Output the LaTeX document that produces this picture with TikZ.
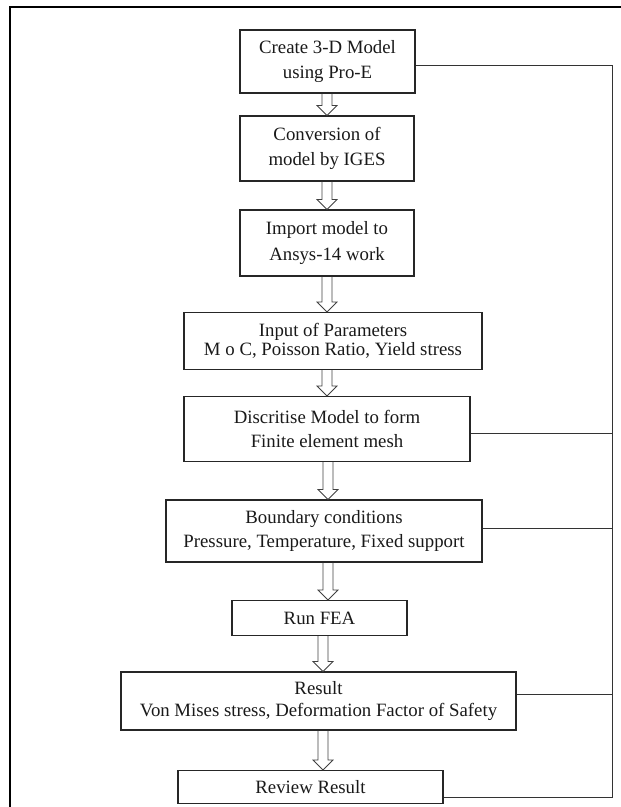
\documentclass[tikz,border=0pt]{standalone}
\usepackage{fontspec}
\setmainfont{Liberation Serif}
\usetikzlibrary{calc}
\begin{document}
\begin{tikzpicture}[x=1pt,y=-1pt,
  box/.style={draw=black!85, line width=1.1pt, align=center, inner sep=0pt,
    font=\fontsize{18.8}{25.5}\selectfont, text=black!90},
  fb/.style={draw=black!80, line width=1pt},
  hollow/.style={draw=black!75, line width=0.8pt,
    to path={let \p1=(\tikztostart), \p2=(\tikztotarget) in
      (\x1-5pt,\y1) -- (\x1-5pt,\y2+10pt) -- (\x1-10pt,\y2+10pt) -- (\x1,\y2)
      -- (\x1+10pt,\y2+10pt) -- (\x1+5pt,\y2+10pt) -- (\x1+5pt,\y1)}}]
\useasboundingbox (0,0) rectangle (621,807);
\clip (0,0) rectangle (621,807);
\draw[line width=1.4pt] (10,7) rectangle (660,850);

\node[box, minimum width=175, minimum height=63] (b1) at (327.5,61.5) {Create 3-D Model\\using Pro-E};
\node[box, minimum width=174, minimum height=65] (b2) at (327,148.5) {Conversion of\\model by IGES};
\node[box, minimum width=174, minimum height=66] (b3) at (327,243) {Import model to\\Ansys-14 work};
\node[box, minimum width=298, minimum height=57] (b4) at (333,341) {Input of Parameters\\[-7pt]M o C, Poisson Ratio, Yield stress};
\node[box, minimum width=286, minimum height=65] (b5) at (327,429) {Discritise Model to form\\[-1pt]Finite element mesh};
\node[box, minimum width=316, minimum height=62] (b6) at (324,531) {Boundary conditions\\[-2pt]Pressure, Temperature, Fixed support};
\node[box, minimum width=175, minimum height=35] (b7) at (319.5,618) {Run FEA};
\node[box, minimum width=395, minimum height=58] (b8) at (318.5,701) {Result\\[-4pt]Von Mises stress, Deformation Factor of Safety};
\node[box, minimum width=265, minimum height=33] (b9) at (310.5,787) {Review Result};

\coordinate (ax) at (327,0);
\coordinate (ay) at (328,0);
\coordinate (bx) at (323,0);
\draw[hollow] (b1.south -| ax) to (b2.north -| ax);
\draw[hollow] (b2.south -| ax) to (b3.north -| ax);
\draw[hollow] (b3.south -| ax) to (b4.north -| ax);
\draw[hollow] (b4.south -| ax) to (b5.north -| ax);
\draw[hollow] (b5.south -| ay) to (b6.north -| ay);
\draw[hollow] (b6.south -| ay) to (b7.north -| ay);
\draw[hollow] (b7.south -| bx) to (b8.north -| bx);
\draw[hollow] (b8.south -| bx) to (b9.north -| bx);

\coordinate (f1) at (612,65);
\coordinate (f5) at (612,433);
\coordinate (f6) at (612,528);
\coordinate (f8) at (612,694);
\coordinate (f9) at (612,797);
\draw[fb] (b1.east |- f1) -- (f1) -- (f9) -- (b9.east |- f9);
\draw[fb] (b5.east |- f5) -- (f5);
\draw[fb] (b6.east |- f6) -- (f6);
\draw[fb] (b8.east |- f8) -- (f8);
\end{tikzpicture}
\end{document}
